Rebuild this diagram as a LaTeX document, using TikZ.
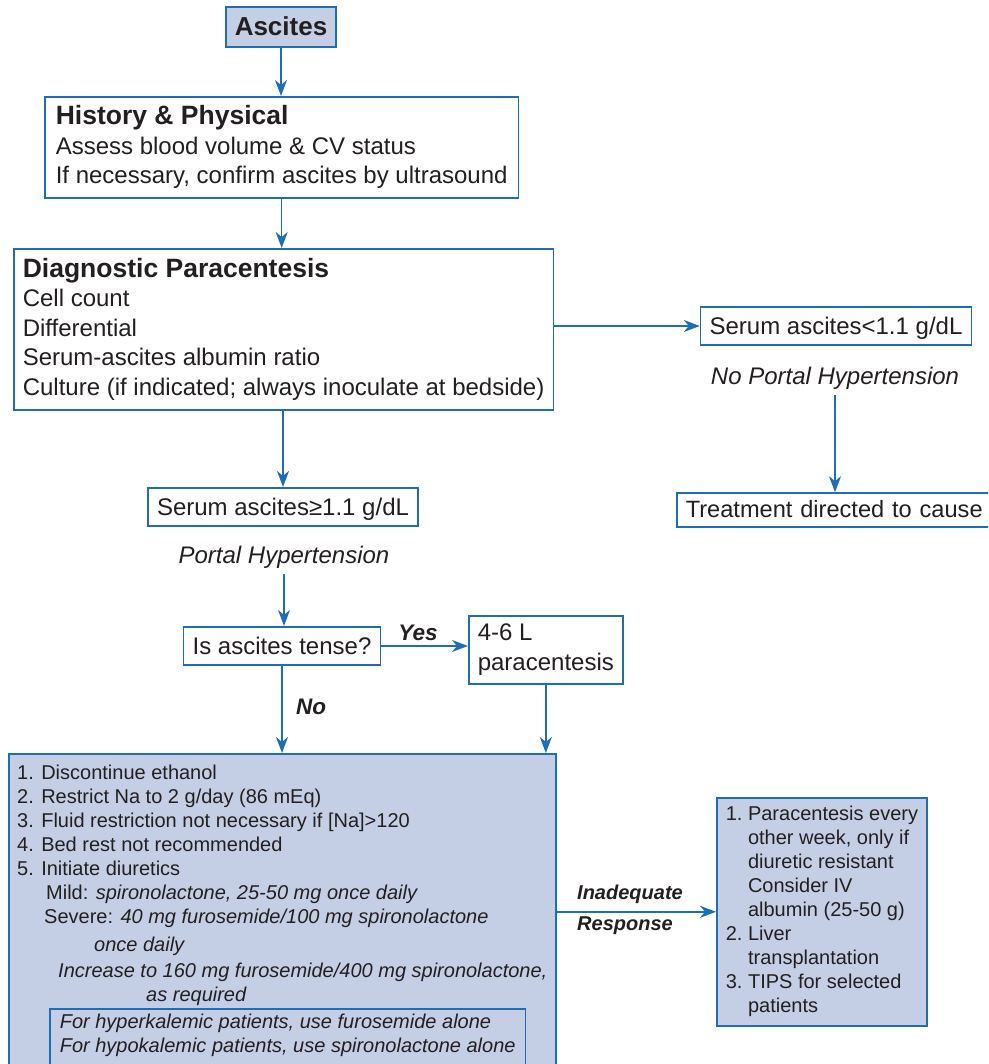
\documentclass[tikz,border=0pt]{standalone}
\usepackage{fontspec}
\setmainfont{Liberation Sans}
\usepackage{xcolor}
\usetikzlibrary{arrows.meta,positioning}
\definecolor{ablue}{RGB}{31,110,180}
\definecolor{ashade}{RGB}{196,207,230}
\definecolor{ink}{RGB}{35,31,32}
\tikzset{
  box/.style={draw=ablue, line width=1.6pt, fill=white, text=ink, inner xsep=9pt,
    font=\fontsize{24}{29.5}\selectfont},
  onebox/.style={box, text height=19.5pt, text depth=3pt, inner ysep=8pt},
  textbox/.style={box, align=left, inner ysep=8pt},
  tag/.style={text=ink, inner sep=6pt, font=\itshape\fontsize{24}{29}\selectfont},
  answer/.style={text=ink, inner sep=0pt, font=\bfseries\itshape\fontsize{22.5}{27}\selectfont},
  flow/.style={draw=ablue, line width=1.6pt, -{Stealth[length=16pt,width=12pt,inset=5pt]}},
}
\begin{document}
\begin{tikzpicture}[x=1pt,y=-1pt]
    \useasboundingbox (0,0) rectangle (988,1064);
    \clip (0,0) rectangle (988,1064);
    \node[onebox, fill=ashade, text height=21pt, font=\bfseries\fontsize{26}{30}\selectfont] (ascites) at (281,27) {Ascites};
    \node[textbox, anchor=north west, minimum width=472pt, minimum height=101pt, inner xsep=11pt] (history) at (44,96)
        {{\bfseries\fontsize{26.5}{29.5}\selectfont History \& Physical}\\
         Assess blood volume \& CV status\\
         If necessary, confirm ascites by ultrasound};
    \node[textbox, anchor=north west, minimum width=539pt, minimum height=161pt] (diag) at (13,248)
        {{\bfseries\fontsize{26.5}{29.5}\selectfont Diagnostic Paracentesis}\\
         Cell count\\
         Differential\\
         Serum-ascites albumin ratio\\
         Culture (if indicated; always inoculate at bedside)};
    \node[onebox] (lowsaag) at (836,326) {Serum ascites<1.1 g/dL};
    \node[tag] (noph) at (835,378) {No Portal Hypertension};
    \node[onebox, text height=18pt, inner ysep=6.5pt, anchor=west, text width=320pt, align=left,
          font=\fontsize{23.6}{29}\selectfont] (treat) at (676,510) {Treatment directed to cause};
    \node[onebox] (highsaag) at (283,507) {Serum ascites≥1.1 g/dL};
    \node[tag] (ph) at (284,557) {Portal Hypertension};
    \node[onebox] (tense) at (282,646) {Is ascites tense?};
    \node[textbox, anchor=north west, minimum width=154pt, minimum height=68pt] (para) at (468,615) {4-6 L\\paracentesis};
    \node[answer] (yes) at (418,633) {Yes};
    \node[answer] (no) at (311,707) {No};
    % medical management
    \node[box, fill=ashade, anchor=north west, minimum width=547pt, minimum height=340pt] (plan) at (8,753) {};
    \node[text=ink, anchor=north west, inner xsep=9pt, inner ysep=9pt, font=\fontsize{20}{24}\selectfont] (steps) at (plan.north west)
        {\begin{tabular}{@{}l@{}}
         1. Discontinue ethanol\\
         2. Restrict Na to 2 g/day (86 mEq)\\
         3. Fluid restriction not necessary if [Na]>120\\
         4. Bed rest not recommended\\
         5. Initiate diuretics\\
         \hspace*{29pt}Mild: \textit{spironolactone, 25-50 mg once daily}\\
         \hspace*{27pt}Severe: \textit{40 mg furosemide/100 mg spironolactone}\\[4pt]
         \hspace*{77pt}\textit{once daily}\\[2pt]
         \hspace*{41pt}\textit{Increase to 160 mg furosemide/400 mg spironolactone,}\\
         \hspace*{129pt}\textit{as required}
         \end{tabular}};
    \node[box, fill=none, anchor=north west, minimum width=474pt, inner xsep=10pt, inner ysep=3pt,
          font=\itshape\fontsize{20}{24}\selectfont] (kalium) at (49,1008)
        {\begin{tabular}{@{}l@{}}
         For hyperkalemic patients, use furosemide alone\\
         For hypokalemic patients, use spironolactone alone\\[20pt]
         \end{tabular}};
    \node[box, fill=ashade, anchor=north west, inner ysep=6pt, font=\fontsize{20}{24}\selectfont] (rbox) at (716,797)
        {\begin{tabular}{@{}l@{\ }l@{}}
         1. & Paracentesis every\\
            & other week, only if\\
            & diuretic resistant\\
            & Consider IV\\
            & albumin (25-50 g)\\
         2. & Liver\\
            & transplantation\\
         3. & TIPS for selected\\
            & patients
         \end{tabular}};
    \node[answer, anchor=west, font=\bfseries\itshape\fontsize{20}{24}\selectfont] (inad) at (577,894) {Inadequate};
    \node[answer, anchor=west, font=\bfseries\itshape\fontsize{20}{24}\selectfont] (resp) at (577,926) {Response};
    % connectors
    \draw[flow] (ascites.south) -- (ascites.south |- history.north);
    \draw[flow] (history.south) -- (history.south |- diag.north);
    \draw[flow] (diag.east |- lowsaag.west) -- (lowsaag.west);
    \draw[flow] (noph.south) -- (noph.south |- treat.north);
    \draw[flow] (diag.south -| highsaag.north) -- (highsaag.north);
    \draw[flow] (ph.south) -- (ph.south |- tense.north);
    \draw[flow] (tense.east) -- (tense.east -| para.west);
    \draw[flow] (tense.south) -- (tense.south |- plan.north);
    \draw[flow] (para.south) -- (para.south |- plan.north);
    \draw[flow] (plan.east |- rbox.west) -- (rbox.west);
\end{tikzpicture}
\end{document}
